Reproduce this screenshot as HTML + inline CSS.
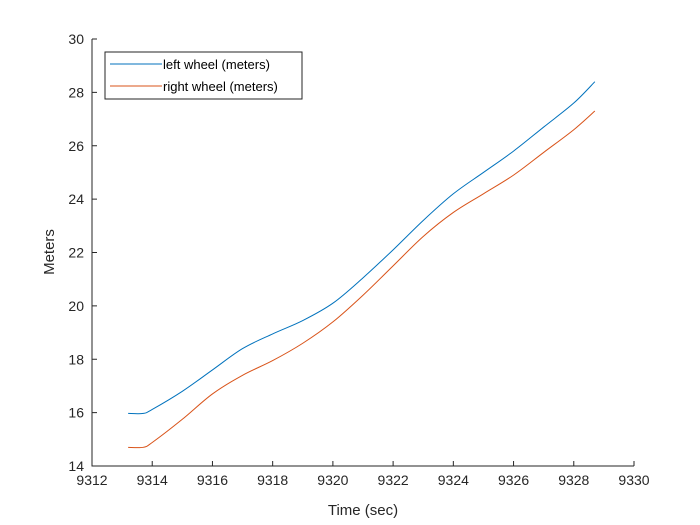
<!DOCTYPE html>
<html><head><meta charset="utf-8"><style>
body{margin:0;background:#fff;}
svg{display:block;font-family:"Liberation Sans",sans-serif;}
</style></head><body>
<svg id="chart" width="700" height="525">
<rect width="700" height="525" fill="#fff"/>
<g id="axes"></g>
<g id="lines"></g>
<g>
<rect x="105" y="52" width="197" height="47" fill="#fff" stroke="#262626" stroke-width="1"/>
<line x1="110" y1="64" x2="162" y2="64" stroke="#0072BD" stroke-width="1"/>
<text x="163" y="69" font-size="13" fill="#000">left wheel (meters)</text>
<line x1="110" y1="86" x2="162" y2="86" stroke="#D95319" stroke-width="1"/>
<text x="163" y="91" font-size="13" fill="#000">right wheel (meters)</text>
</g>
<text x="363" y="515" font-size="15" text-anchor="middle" fill="#262626">Time (sec)</text>
<text transform="translate(54,252) rotate(-90)" font-size="15" text-anchor="middle" fill="#262626">Meters</text>
</svg>
<script>
const times=[9313.2,9313.7,9314,9315,9316,9317,9318,9319,9320,9321,9322,9323,9324,9325,9326,9327,9328,9328.7];
const leftWheel=[15.97,15.97,16.12,16.8,17.6,18.4,18.95,19.45,20.1,21.05,22.1,23.2,24.2,25.0,25.8,26.7,27.6,28.4];
const rightWheel=[14.7,14.7,14.88,15.75,16.7,17.4,17.95,18.6,19.4,20.4,21.5,22.6,23.5,24.2,24.9,25.75,26.6,27.3];
const xTicks=[9312,9314,9316,9318,9320,9322,9324,9326,9328,9330];
const yTicks=[14,16,18,20,22,24,26,28,30];
const X0=92,X1=634,Y0=466,Y1=39;
const sx=v=>X0+(v-9312)/(9330-9312)*(X1-X0);
const sy=v=>Y0-(v-14)/(30-14)*(Y0-Y1);
const NS="http://www.w3.org/2000/svg";
const ax=document.getElementById('axes');
function mk(t,a,p){const e=document.createElementNS(NS,t);for(const k in a)e.setAttribute(k,a[k]);p.appendChild(e);return e;}
const frame=mk('path',{d:`M${X0},${Y1}V${Y0}H${X1}`,fill:'none',stroke:'#262626','stroke-width':1},ax);


xTicks.forEach(t=>{const x=sx(t);
mk('line',{x1:x,y1:Y0,x2:x,y2:Y0-5,stroke:'#262626'},ax);
const tx=mk('text',{x:x,y:Y0+19,'font-size':14,'text-anchor':'middle',fill:'#262626'},ax);tx.textContent=t;

});
yTicks.forEach(t=>{const y=sy(t);
mk('line',{x1:X0,y1:y,x2:X0+5,y2:y,stroke:'#262626'},ax);
const tx=mk('text',{x:X0-8,y:y+5,'font-size':14,'text-anchor':'end',fill:'#262626'},ax);tx.textContent=t;

});
function smooth(pts){
let d=`M${pts[0][0]},${pts[0][1]}`;
for(let i=0;i<pts.length-1;i++){
const p0=pts[Math.max(0,i-1)],p1=pts[i],p2=pts[i+1],p3=pts[Math.min(pts.length-1,i+2)];
const c1=[p1[0]+(p2[0]-p0[0])/6,p1[1]+(p2[1]-p0[1])/6];
const c2=[p2[0]-(p3[0]-p1[0])/6,p2[1]-(p3[1]-p1[1])/6];
d+=` C${c1[0]},${c1[1]} ${c2[0]},${c2[1]} ${p2[0]},${p2[1]}`;}
return d;}
const lg=document.getElementById('lines');
[[leftWheel,'#0072BD','left-wheel-line'],[rightWheel,'#D95319','right-wheel-line']].forEach(([d,c,n])=>{
const pts=times.map((t,i)=>[sx(t),sy(d[i])]);
const p=mk('path',{d:smooth(pts),fill:'none',stroke:c,'stroke-width':1},lg);

});
</script>
</body></html>
